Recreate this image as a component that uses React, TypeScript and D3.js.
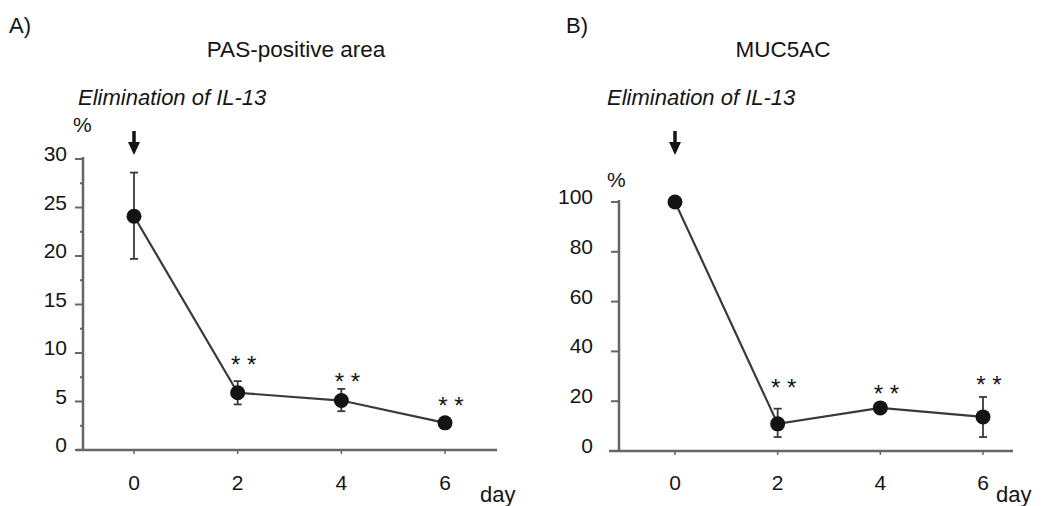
import * as d3 from 'd3'

// shared x categories
const days = [0, 2, 4, 6]

// A) PAS-positive area (%)
const pasMean = [24.1, 5.9, 5.1, 2.8]
const pasErrHi = [28.6, 7.1, 6.3, 3.1]
const pasErrLo = [19.7, 4.7, 4.0, 2.5]
const pasStars = [9.4, 7.6, 5.2] // level of ** above days 2, 4, 6
const pasTicks = [0, 5, 10, 15, 20, 25, 30]
const pasMinor = [2.5, 7.5, 12.5, 17.5, 22.5, 27.5]

// B) MUC5AC (%)
const mucMean = [100, 10.9, 17.3, 13.7]
const mucErrHi = [100, 17, 18.8, 21.7]
const mucErrLo = [100, 5.6, 15.8, 5.6]
const mucStars = [27.7, 25.3, 28.9]
const mucTicks = [0, 20, 40, 60, 80, 100]

const FONT = '"Liberation Sans", Arial, Helvetica, sans-serif'
const INK = '#141414'
const LINE = '#3a3a3a'
const AXIS = '#666'

type PanelProps = {
  letter: string
  title: string
  mean: number[]
  hi: number[]
  lo: number[]
  stars: number[]
  ticks: number[]
  minor: number[]
  yMax: number
  xRange: [number, number]
  yRange: [number, number]
  axisX: number
  axisLeft: number
  axisRight: number
  letterX: number
  titleX: number
  subX: number
  pctX: number
  pctY: number
  labelGap: number
}

function Panel(p: PanelProps) {
  const x = d3.scaleLinear().domain([0, 6]).range(p.xRange)
  const y = d3.scaleLinear().domain([0, p.yMax]).range(p.yRange)
  const pts = days.map((d, i) => ({ d, v: p.mean[i], hi: p.hi[i], lo: p.lo[i] }))
  const line = d3.line<{ d: number; v: number }>().x(q => x(q.d)).y(q => y(q.v))
  const y0 = y(0)
  const ax = x(0)

  return (
    <g>
      <text x={p.letterX} y={33} fontSize={22} fill={INK}>{p.letter}</text>
      <text x={p.titleX} y={57} fontSize={22.5} fill={INK} textAnchor="middle">{p.title}</text>
      <text x={p.subX} y={105} fontSize={22} fill={INK} fontStyle="italic">Elimination of IL-13</text>
      <text x={p.pctX} y={p.pctY} fontSize={21} fill={INK}>%</text>

      {/* arrow marking IL-13 withdrawal */}
      <line x1={ax} x2={ax} y1={131} y2={145} stroke={INK} strokeWidth={3.5} />
      <path d={`M${ax - 6},${142} L${ax + 6},${142} L${ax},${155} Z`} fill={INK} />

      {/* y axis */}
      <line x1={p.axisX} x2={p.axisX} y1={y(p.yMax) - 2} y2={y0} stroke={AXIS} strokeWidth={2.5} />
      {p.ticks.map(t => (
        <g key={t}>
          <line x1={p.axisX - 8} x2={p.axisX} y1={y(t)} y2={y(t)} stroke={AXIS} strokeWidth={2} />
          <text x={p.axisX - p.labelGap} y={y(t) + 2} fontSize={21} fill={INK} textAnchor="end">{t}</text>
        </g>
      ))}
      {p.minor.map(t => (
        <line key={t} x1={p.axisX - 3} x2={p.axisX} y1={y(t)} y2={y(t)} stroke={AXIS} strokeWidth={2} />
      ))}

      {/* x axis */}
      <line x1={p.axisLeft} x2={p.axisRight} y1={y0} y2={y0} stroke={AXIS} strokeWidth={2.5} />
      {days.map(d => (
        <g key={d}>
          <line x1={x(d)} x2={x(d)} y1={y0} y2={y0 + 4} stroke={AXIS} strokeWidth={1.5} />
          <text x={x(d)} y={490} fontSize={21} fill={INK} textAnchor="middle">{d}</text>
        </g>
      ))}
      <text x={p.axisRight - 17} y={502} fontSize={22} fill={INK}>day</text>

      {/* error bars */}
      {pts.filter(q => q.hi - q.lo > 0.01).map(q => (
        <g key={q.d} stroke={LINE} strokeWidth={1.8}>
          <line x1={x(q.d)} x2={x(q.d)} y1={y(q.hi)} y2={y(q.lo)} />
          <line x1={x(q.d) - 4} x2={x(q.d) + 4} y1={y(q.hi)} y2={y(q.hi)} />
          <line x1={x(q.d) - 4} x2={x(q.d) + 4} y1={y(q.lo)} y2={y(q.lo)} />
        </g>
      ))}

      <path d={line(pts) ?? ''} fill="none" stroke={LINE} strokeWidth={2.2} />
      {pts.map(q => (
        <circle key={q.d} cx={x(q.d)} cy={y(q.v)} r={7.5} fill={INK} />
      ))}

      {p.stars.map((s, i) => (
        <text key={i} x={x(days[i + 1]) + 6} y={y(s) + 14} fontSize={24} fill={INK} textAnchor="middle">* *</text>
      ))}
    </g>
  )
}

export default function App() {
  return (
    <svg width={1062} height={506} style={{ display: 'block', fontFamily: FONT, position: 'absolute', left: 0, top: 0, background: '#fff' }}>
      <rect width={1062} height={506} fill="#fff" />
      <Panel
        letter="A)" title="PAS-positive area"
        mean={pasMean} hi={pasErrHi} lo={pasErrLo} stars={pasStars}
        ticks={pasTicks} minor={pasMinor} yMax={30}
        xRange={[134, 445]} yRange={[450, 159]}
        axisX={83} axisLeft={76} axisRight={497}
        letterX={9} titleX={296} subX={78} pctX={73} pctY={132} labelGap={16}
      />
      <Panel
        letter="B)" title="MUC5AC"
        mean={mucMean} hi={mucErrHi} lo={mucErrLo} stars={mucStars}
        ticks={mucTicks} minor={[]} yMax={100}
        xRange={[675, 983]} yRange={[451, 202]}
        axisX={619} axisLeft={609} axisRight={1013}
        letterX={566} titleX={783} subX={607} pctX={607} pctY={187} labelGap={26}
      />
    </svg>
  )
}
